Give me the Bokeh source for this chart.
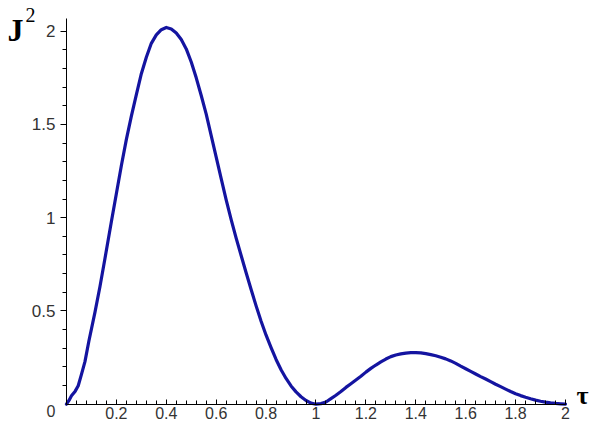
import numpy as np
from bokeh.plotting import figure
from bokeh.models import LinearAxis, FixedTicker, Range1d
from bokeh.core.properties import value
from bokeh.embed import file_html
from bokeh.resources import INLINE

# ---- data ----
tau = [0.0, 0.01, 0.02, 0.035, 0.047, 0.06, 0.074, 0.09, 0.114, 0.134,
       0.154, 0.18, 0.20, 0.22, 0.24, 0.26, 0.28, 0.30, 0.32, 0.34,
       0.36, 0.38, 0.40, 0.42, 0.44, 0.46, 0.48, 0.50, 0.52, 0.54,
       0.56, 0.58, 0.60, 0.62, 0.64, 0.66, 0.68, 0.70, 0.72, 0.74,
       0.76, 0.78, 0.80, 0.82, 0.84, 0.86, 0.88, 0.90, 0.92, 0.94,
       0.96, 0.98, 1.00, 1.02, 1.04, 1.06, 1.08, 1.10, 1.12, 1.14,
       1.16, 1.18, 1.20, 1.22, 1.24, 1.26, 1.28, 1.30, 1.32, 1.34,
       1.36, 1.38, 1.40, 1.42, 1.44, 1.46, 1.48, 1.50, 1.52, 1.54,
       1.56, 1.58, 1.60, 1.62, 1.64, 1.66, 1.68, 1.70, 1.72, 1.74,
       1.76, 1.78, 1.80, 1.82, 1.84, 1.86, 1.88, 1.90, 1.92, 1.94,
       1.96, 1.98, 2.00]
J2 = [0.0, 0.02, 0.045, 0.07, 0.099, 0.16, 0.228, 0.34, 0.492, 0.63,
      0.78, 0.98, 1.13, 1.28, 1.42, 1.545, 1.66, 1.772, 1.86, 1.935,
      1.98, 2.008, 2.02, 2.012, 1.99, 1.955, 1.905, 1.835, 1.75, 1.655,
      1.555, 1.44, 1.325, 1.21, 1.095, 0.99, 0.89, 0.797, 0.705, 0.615,
      0.527, 0.445, 0.37, 0.303, 0.24, 0.185, 0.138, 0.098, 0.066, 0.04,
      0.02, 0.006, 0.0, 0.003, 0.012, 0.03, 0.048, 0.068, 0.09, 0.11,
      0.13, 0.15, 0.172, 0.192, 0.21, 0.227, 0.242, 0.255, 0.264, 0.27,
      0.274, 0.276, 0.276, 0.275, 0.271, 0.266, 0.26, 0.252, 0.243, 0.232,
      0.219, 0.204, 0.19, 0.176, 0.162, 0.148, 0.135, 0.121, 0.107, 0.094,
      0.081, 0.068, 0.056, 0.046, 0.037, 0.029, 0.022, 0.016, 0.011, 0.007,
      0.004, 0.002, 0.0]

x_ticks = [0.2, 0.4, 0.6, 0.8, 1.0, 1.2, 1.4, 1.6, 1.8, 2.0]
x_tick_labels = ["0.2", "0.4", "0.6", "0.8", "1", "1.2", "1.4", "1.6", "1.8", "2"]
y_ticks = [0.5, 1.0, 1.5, 2.0]
y_tick_labels = ["0.5", "1", "1.5", "2"]
origin_label = "0"
x_title = "τ"
y_title = "J"
y_title_sup = "2"

LINE = "#1414a0"
TICK_FONT = "Liberation Sans"

p = figure(width=589, height=424, output_backend="svg", toolbar_location=None,
           x_range=Range1d(-0.2645, 2.0962), y_range=Range1d(-0.1089, 2.1646),
           x_axis_location=None, y_axis_location=None,
           min_border=0, min_border_left=0, min_border_right=0,
           min_border_top=0, min_border_bottom=0)
p.outline_line_color = None
p.background_fill_color = "white"
for g in p.grid:
    g.visible = False

xaxis = LinearAxis(fixed_location=0, bounds=(0, 2.0))
xaxis.ticker = FixedTicker(ticks=x_ticks,
                           minor_ticks=list(np.round(np.arange(0.04, 2.0001, 0.04), 4)))
xaxis.major_label_overrides = dict(zip(x_ticks, x_tick_labels))
xaxis.major_tick_in = 5
xaxis.major_tick_out = 0
xaxis.minor_tick_in = 4
xaxis.minor_tick_out = 0
xaxis.major_label_standoff = 3
xaxis.major_label_text_font = TICK_FONT
xaxis.major_label_text_font_size = "16px"
xaxis.major_label_text_color = "#333333"
xaxis.axis_line_color = "black"
p.add_layout(xaxis, "below")

yaxis = LinearAxis(fixed_location=0, bounds=(0, 2.068))
yaxis.ticker = FixedTicker(ticks=y_ticks,
                           minor_ticks=list(np.round(np.arange(0.1, 2.0001, 0.1), 4)))
yaxis.major_label_overrides = dict(zip(y_ticks, y_tick_labels))
yaxis.major_tick_in = 0
yaxis.major_tick_out = 6
yaxis.minor_tick_in = 0
yaxis.minor_tick_out = 4
yaxis.major_label_standoff = 5
yaxis.major_label_text_font = TICK_FONT
yaxis.major_label_text_font_size = "17px"
yaxis.major_label_text_color = "#333333"
yaxis.axis_line_color = "black"
p.add_layout(yaxis, "left")

p.line(tau, J2, line_color=LINE, line_width=3.2, line_join="round", line_cap="round")

# origin label
p.text(x=[0], y=[0], text=[origin_label], x_offset=-11, y_offset=1,
       text_align="right", text_baseline="top",
       text_font=value(TICK_FONT), text_font_size="16px", text_color="#333333")

# axis titles
p.text(x=[2.0], y=[0], text=[x_title], x_offset=11, y_offset=-9,
       text_align="left", text_baseline="middle",
       text_font=value("Liberation Serif"), text_font_style="bold",
       text_font_size="26px", text_color="black")
p.text(x=[0], y=[2.0], text=[y_title], x_offset=-59, y_offset=-1,
       text_align="left", text_baseline="alphabetic",
       text_font=value("Liberation Serif"), text_font_style="bold",
       text_font_size="32px", text_color="black")
p.text(x=[0], y=[2.0], text=[y_title_sup], x_offset=-41, y_offset=-16,
       text_align="left", text_baseline="alphabetic",
       text_font=value("Liberation Serif"),
       text_font_size="20px", text_color="black")

open("out.html", "w").write(file_html(p, INLINE))
